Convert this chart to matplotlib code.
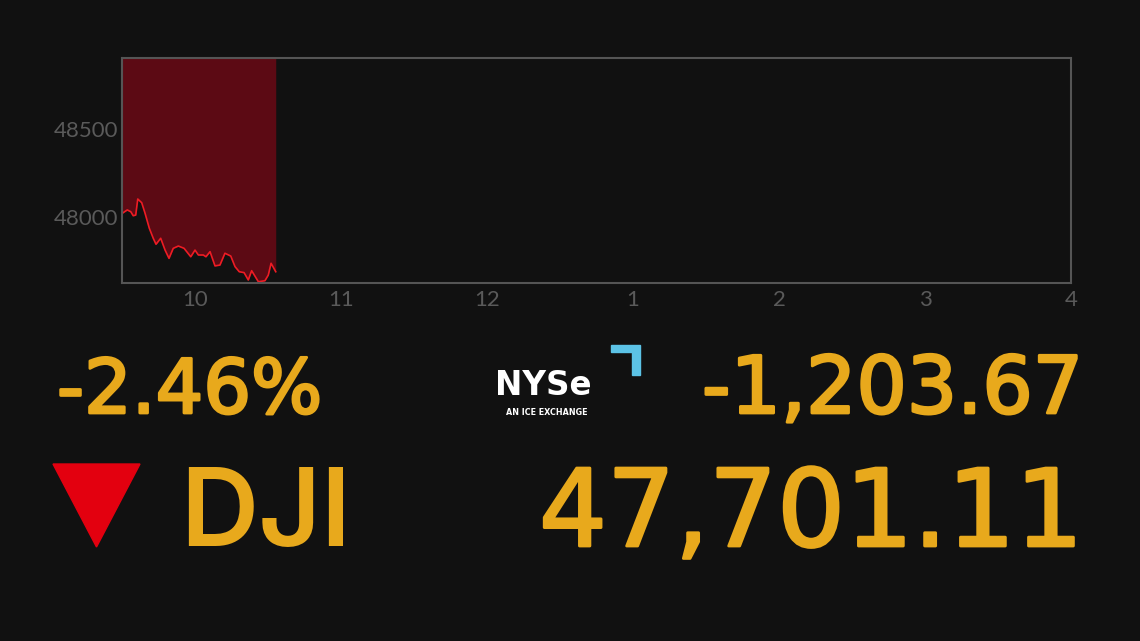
import matplotlib
matplotlib.use('Agg')

import matplotlib.pyplot as plt
import matplotlib.patheffects as pe
from matplotlib.patches import Polygon

# intraday DJI (hours since midnight, index value)
times = [9.502, 9.536, 9.560, 9.577, 9.594, 9.608, 9.635, 9.658, 9.687, 9.714,
         9.733, 9.765, 9.795, 9.822, 9.851, 9.886, 9.925, 9.971, 10.0, 10.023,
         10.057, 10.075, 10.103, 10.137, 10.171, 10.205, 10.245, 10.274, 10.303,
         10.336, 10.365, 10.388, 10.434, 10.479, 10.502, 10.521, 10.553]
values = [48021, 48040, 48030, 48007, 48011, 48102, 48081, 48021, 47936, 47879,
          47845, 47879, 47812, 47765, 47822, 47835, 47822, 47774, 47812, 47784,
          47784, 47774, 47803, 47722, 47727, 47794, 47778, 47718, 47689,
          47684, 47642, 47695, 47632, 47638, 47670, 47737, 47689]

x_ticks = [10, 11, 12, 13, 14, 15, 16]
x_labels = ["10", "11", "12", "1", "2", "3", "4"]
y_ticks = [48000, 48500]

pct_change = "-2.46%"
pt_change = "-1,203.67"
last_value = "47,701.11"
symbol = "DJI"

BG = "#111111"
GOLD = "#e8a91c"
W, H = 1140, 641
BIG = "DejaVu Sans"

fig = plt.figure(figsize=(W / 100, H / 100), dpi=100, facecolor=BG)
ax = fig.add_axes([122 / W, 1 - 283 / H, (1071 - 122) / W, (283 - 57.5) / H])
ax.set_facecolor(BG)

ax.set_xlim(9.5, 16)
ax.set_ylim(47625, 48906)
ax.fill_between(times, values, 49500, color="#5c0a14", lw=0)
ax.plot(times, values, color="#ee1c24", lw=1.2)

for s in ax.spines.values():
    s.set_color("#555555")
    s.set_linewidth(1.5)
ax.set_xticks(x_ticks)
ax.set_xticklabels(x_labels)
ax.set_yticks(y_ticks)
ax.tick_params(length=0, colors="#5a5a5a", labelsize=16)
ax.tick_params(axis="y", pad=3)
ax.tick_params(axis="x", pad=5)
for lab in ax.get_xticklabels() + ax.get_yticklabels():
    lab.set_fontfamily("Lato")

thick = [pe.withStroke(linewidth=2.0, foreground=GOLD)]


def ft(x, y, s, **kw):
    fig.text(x / W, 1 - y / H, s, **kw)


ft(57, 413, pct_change, color=GOLD, fontsize=54, fontfamily=BIG,
   va="baseline", ha="left", path_effects=thick)
ft(1083, 413, pt_change, color=GOLD, fontsize=57, fontfamily=BIG,
   va="baseline", ha="right", path_effects=thick)
ft(1083, 546, last_value, color=GOLD, fontsize=77, fontfamily=BIG,
   va="baseline", ha="right", path_effects=thick)
ft(180, 546, symbol, color=GOLD, fontsize=78, fontfamily="Inter",
   fontweight="semibold", va="baseline", ha="left")

# down triangle
tri = Polygon([(53 / W, 1 - 464 / H), (140 / W, 1 - 464 / H), (96.5 / W, 1 - 547 / H)],
              closed=True, transform=fig.transFigure, color="#e3000f")
fig.patches.append(tri)

# NYSE logo
ft(495, 395, "NYSe", color="white", fontsize=23.5, fontfamily=BIG,
   fontweight="bold", va="baseline", ha="left")
ft(547, 415, "AN ICE EXCHANGE", color="white", fontsize=5.8, fontfamily=BIG,
   fontweight="bold", va="baseline", ha="center")
brk = Polygon([(611 / W, 1 - 345 / H), (640 / W, 1 - 345 / H), (640 / W, 1 - 375 / H),
               (632 / W, 1 - 375 / H), (632 / W, 1 - 352 / H), (611 / W, 1 - 352 / H)],
              closed=True, transform=fig.transFigure, color="#5cc3e6")
fig.patches.append(brk)

plt.savefig("out.png", dpi=100, facecolor=BG)
